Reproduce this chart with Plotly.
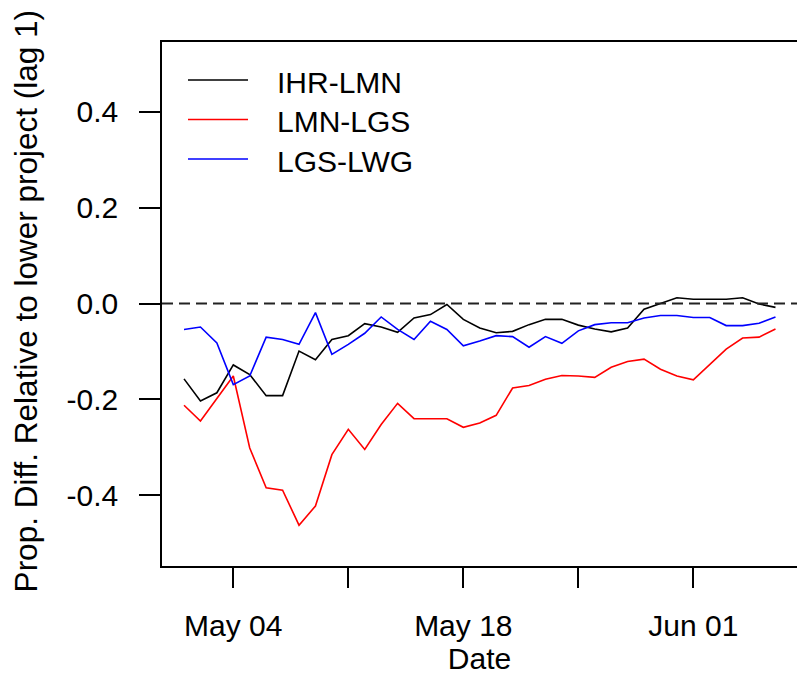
import pandas as pd
import plotly.graph_objects as go

# Daily lag-1 proportional differences, 1 May - 6 Jun
dates = pd.date_range("2021-05-01", "2021-06-06", freq="D")

ihr_lmn = [-0.157, -0.203, -0.186, -0.128, -0.148, -0.192, -0.192, -0.099, -0.117, -0.075,
           -0.067, -0.042, -0.049, -0.060, -0.030, -0.023, -0.002, -0.033, -0.051, -0.061,
           -0.058, -0.044, -0.033, -0.033, -0.045, -0.053, -0.059, -0.051, -0.012, 0.000,
           0.012, 0.009, 0.009, 0.009, 0.012, -0.001, -0.008]

lmn_lgs = [-0.212, -0.245, -0.198, -0.151, -0.301, -0.384, -0.389, -0.462, -0.422, -0.315,
           -0.262, -0.304, -0.252, -0.208, -0.240, -0.240, -0.240, -0.258, -0.249, -0.233,
           -0.176, -0.171, -0.158, -0.150, -0.151, -0.154, -0.133, -0.121, -0.116, -0.137,
           -0.151, -0.159, -0.128, -0.095, -0.072, -0.070, -0.053]

lgs_lwg = [-0.054, -0.049, -0.082, -0.169, -0.151, -0.070, -0.075, -0.085, -0.019, -0.106,
           -0.085, -0.062, -0.028, -0.054, -0.075, -0.037, -0.054, -0.088, -0.078, -0.067,
           -0.069, -0.091, -0.069, -0.083, -0.057, -0.044, -0.040, -0.040, -0.030, -0.025,
           -0.025, -0.029, -0.029, -0.046, -0.046, -0.041, -0.028]

series_names = ["IHR-LMN", "LMN-LGS", "LGS-LWG"]
series_colors = ["#000000", "#FF0000", "#0000FF"]

x_tick_dates = ["2021-05-04", "2021-05-11", "2021-05-18", "2021-05-25", "2021-06-01"]
x_tick_text = ["May 04", "", "May 18", "", "Jun 01"]
y_tick_vals = [-0.4, -0.2, 0.0, 0.2, 0.4]
y_tick_text = ["-0.4", "-0.2", "0.0", "0.2", "0.4"]

FONT = "Liberation Sans, Arial, sans-serif"
FS = 30

W, H = 797, 676
ML, MR, MT, MB = 162, 0, 42, 110
PW, PH = W - ML - MR, H - MT - MB

fig = go.Figure()
for name, vals, col in zip(series_names, [ihr_lmn, lmn_lgs, lgs_lwg], series_colors):
    fig.add_trace(go.Scatter(x=dates, y=vals, mode="lines", name=name,
                             line=dict(color=col, width=1.6), showlegend=False))

# horizontal reference at zero
fig.add_shape(type="line", xref="paper", x0=0, x1=1, yref="y", y0=0, y1=0,
              line=dict(color="#222222", width=1.8, dash="11px,6px"))

# legend drawn by hand (no box)
def px_x(p):
    return (p - ML) / PW

def px_y(p):
    return (H - MB - p) / PH

legend_rows = [80, 119.5, 159]
for name, col, yy in zip(series_names, series_colors, legend_rows):
    fig.add_shape(type="line", xref="paper", yref="paper",
                  x0=px_x(188), x1=px_x(248), y0=px_y(yy), y1=px_y(yy),
                  line=dict(color=col, width=1.6))
    fig.add_annotation(xref="paper", yref="paper", x=px_x(275), y=px_y(yy + 2),
                       xanchor="left", yanchor="middle", text=name, showarrow=False,
                       font=dict(family=FONT, size=FS, color="black"))

# y-axis title
fig.add_annotation(xref="paper", yref="paper", x=px_x(26), y=0.505,
                   xanchor="center", yanchor="middle", textangle=-90,
                   text="Prop. Diff. Relative to lower project (lag 1)", showarrow=False,
                   font=dict(family=FONT, size=31.5, color="black"))

x0 = dates[0] - pd.Timedelta(days=1.34)
x1 = x0 + pd.Timedelta(days=38.65)

fig.update_layout(
    width=W, height=H,
    margin=dict(l=ML, r=MR, t=MT, b=MB, pad=0),
    paper_bgcolor="white", plot_bgcolor="white",
    font=dict(family=FONT, size=FS, color="black"),
    xaxis=dict(range=[x0.strftime("%Y-%m-%d %H:%M:%S"), x1.strftime("%Y-%m-%d %H:%M:%S")],
               tickvals=x_tick_dates, ticktext=x_tick_text,
               ticks="outside", ticklen=20, tickwidth=1.5, tickcolor="black",
               showline=True, linecolor="black", linewidth=1.5, mirror=True,
               showgrid=False, zeroline=False, ticklabelstandoff=12,
               title=dict(text="Date", font=dict(family=FONT, size=FS), standoff=0)),
    yaxis=dict(range=[-0.547, 0.545], tickvals=y_tick_vals, ticktext=y_tick_text,
               ticks="outside", ticklen=21, tickwidth=1.5, tickcolor="black",
               showline=True, linecolor="black", linewidth=1.5, mirror=False,
               showgrid=False, zeroline=False, ticklabelstandoff=15),
)

fig.write_html("out.html")
